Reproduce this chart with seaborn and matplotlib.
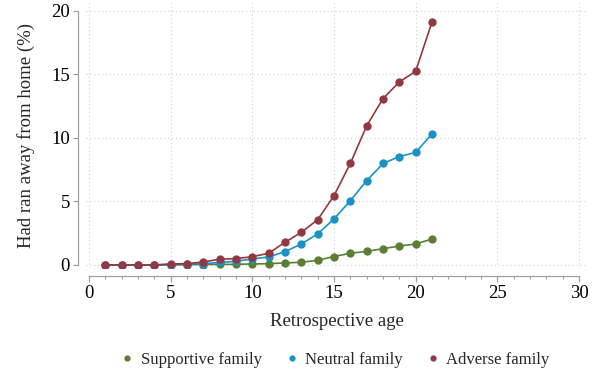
import matplotlib
matplotlib.use("Agg")
import matplotlib.pyplot as plt
from matplotlib.ticker import MultipleLocator
from matplotlib.lines import Line2D
import seaborn as sns
import pandas as pd

ages = list(range(1, 22))
supportive = [0.0, 0.0, 0.0, 0.0, 0.01, 0.02, 0.03, 0.05, 0.05, 0.08, 0.10,
              0.16, 0.21, 0.37, 0.66, 0.92, 1.07, 1.28, 1.49, 1.65, 2.04]
neutral = [0.0, 0.0, 0.0, 0.0, 0.03, 0.05, 0.10, 0.20, 0.29, 0.47, 0.63,
           1.05, 1.65, 2.44, 3.62, 5.06, 6.63, 7.99, 8.54, 8.86, 10.32]
adverse = [0.0, 0.0, 0.0, 0.0, 0.08, 0.10, 0.24, 0.45, 0.50, 0.65, 0.92,
           1.78, 2.57, 3.56, 5.45, 7.99, 10.95, 13.10, 14.41, 15.25, 19.13]

groups = ["Supportive family", "Neutral family", "Adverse family"]
colors = ["#5a7f32", "#1a92c8", "#923840"]

df = pd.DataFrame({
    "age": ages * 3,
    "pct": supportive + neutral + adverse,
    "group": [g for g in groups for _ in ages],
})

sns.set_style("white")
plt.rcParams["font.family"] = ["Liberation Serif", "DejaVu Serif"]

W, H = 600, 376
fig = plt.figure(figsize=(W / 100, H / 100), dpi=100)
left, right, top, bottom = 86, 587, 3, 268
ax = fig.add_axes([left / W, 1 - bottom / H, (right - left) / W, (bottom - top) / H])

sns.lineplot(data=df, x="age", y="pct", hue="group", hue_order=groups,
             palette=colors, marker="o", markersize=6, markeredgewidth=0,
             linewidth=1.2, ax=ax, legend=False)

ax.set_xlim(-0.18, 30.49)
ax.set_ylim(-0.24, 20.63)
ax.xaxis.set_major_locator(MultipleLocator(5))
ax.xaxis.set_minor_locator(MultipleLocator(1))
ax.yaxis.set_major_locator(MultipleLocator(5))

ax.grid(True, which="major", color="#d0d0d0", linestyle=(0, (1, 2.5)), linewidth=0.8)
ax.set_axisbelow(True)

for s in ["top", "right"]:
    ax.spines[s].set_visible(False)
ax.spines["left"].set_position(("outward", 6))
ax.spines["bottom"].set_position(("outward", 6))
ax.spines["left"].set_bounds(0, 20)
ax.spines["bottom"].set_bounds(0, 30)
for s in ["left", "bottom"]:
    ax.spines[s].set_color("#a0a0a0")
    ax.spines[s].set_linewidth(0.9)

ax.tick_params(axis="both", which="both", bottom=True, left=True)
ax.tick_params(axis="y", which="major", length=3.5, width=0.9, color="#a0a0a0",
               labelsize=13.5, labelcolor="black", pad=2)
ax.tick_params(axis="x", which="major", length=4.5, width=0.9, color="#a0a0a0",
               labelsize=13.5, labelcolor="black", pad=2)
ax.tick_params(axis="x", which="minor", length=2.5, width=0.8, color="#a0a0a0")
ax.tick_params(axis="y", which="minor", left=False)

ax.set_xlabel("Retrospective age", fontsize=13.5, labelpad=8)
ax.set_ylabel("Had ran away from home (%)", fontsize=13.5, labelpad=11.5)

handles = [Line2D([], [], linestyle="none", marker="o", markersize=4.5,
                  markeredgewidth=0, color=c) for c in colors]
fig.legend(handles, groups, loc="center", bbox_to_anchor=(334 / W, 1 - 360 / H),
           ncol=3, frameon=False, fontsize=12, handletextpad=0.3,
           columnspacing=1.3, handlelength=1.0)

fig.savefig("out.png", dpi=100)
